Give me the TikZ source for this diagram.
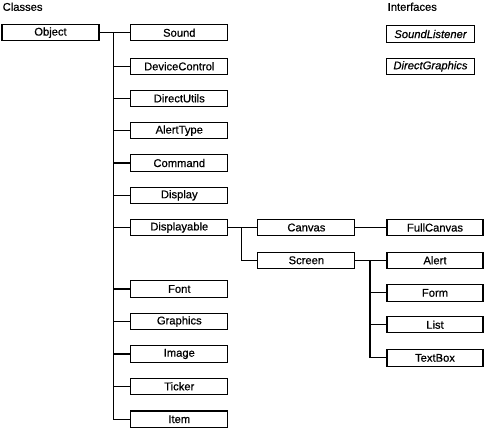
\documentclass[tikz,border=0pt]{standalone}
\usepackage{fontspec}
\setmainfont{Liberation Sans}[RawFeature={embolden=0.6}]
\begin{document}
\begin{tikzpicture}[x=1pt,y=-1pt,
  box/.style={draw, line width=1.05pt, fill=white, minimum width=97pt, minimum height=16.4pt, inner sep=0pt, font=\fontsize{11.2}{13}\selectfont},
  ibox/.style={box, minimum width=87.6pt, font=\fontsize{11.2}{13}\selectfont\itshape},
  lbl/.style={anchor=base west, inner sep=0pt, font=\fontsize{11.2}{13}\selectfont},
  link/.style={line width=1.05pt}]
\useasboundingbox (0,0) rectangle (487,429);
\node[lbl] (classes) at (2.5,10.8) {Classes};
\node[lbl] (interfaces) at (387.5,10.8) {Interfaces};
\node[ibox] (sl) at (430.5,34) {SoundListener};
\node[ibox] (dg) at (430.5,66.4) {DirectGraphics};
\node[box] (object) at (50.5,32.7) {Object};
\node[box] (sound) at (179.3,32.7) {Sound};
\node[box] (devctl) at (179.3,66.3) {DeviceControl};
\node[box] (dutils) at (179.3,98.3) {DirectUtils};
\node[box] (alerttype) at (179.3,130.7) {AlertType};
\node[box] (command) at (179.3,163) {Command};
\node[box] (display) at (179.3,195.3) {Display};
\node[box] (displayable) at (179.3,227.5) {Displayable};
\node[box] (font) at (179.3,289) {Font};
\node[box] (graphics) at (179.3,321.5) {Graphics};
\node[box] (image) at (179.3,354) {Image};
\node[box] (ticker) at (179.3,386.3) {Ticker};
\node[box] (item) at (179.3,419.2) {Item};
\node[box] (canvas) at (306.4,227.5) {Canvas};
\node[box] (screen) at (306.4,260.3) {Screen};
\node[box, minimum width=96pt] (fullcanvas) at (435,227.5) {FullCanvas};
\node[box, minimum width=96pt] (alert) at (435,260.3) {Alert};
\node[box, minimum width=96pt] (form) at (435,292.9) {Form};
\node[box, minimum width=96pt] (list) at (435,324.7) {List};
\node[box, minimum width=96pt] (textbox) at (435,357.9) {TextBox};
% trunk
\coordinate (t0) at (113.5,32.7);
\draw[link] (object.east) -- (sound.west);
\draw[link] (t0) |- (item.west);
\foreach \n in {devctl,dutils,alerttype,command,display,displayable,font,graphics,image,ticker}
  \draw[link] (t0 |- \n.west) -- (\n.west);
% displayable
\coordinate (t1) at (241.7,227.5);
\draw[link] (displayable.east) -- (canvas.west);
\draw[link] (t1) |- (screen.west);
\draw[link] (canvas.east) -- (fullcanvas.west);
% screen
\coordinate (t2) at (370,260.3);
\draw[link] (screen.east) -- (alert.west);
\draw[link] (t2) |- (textbox.west);
\foreach \n in {form,list}
  \draw[link] (t2 |- \n.west) -- (\n.west);
\end{tikzpicture}
\end{document}
